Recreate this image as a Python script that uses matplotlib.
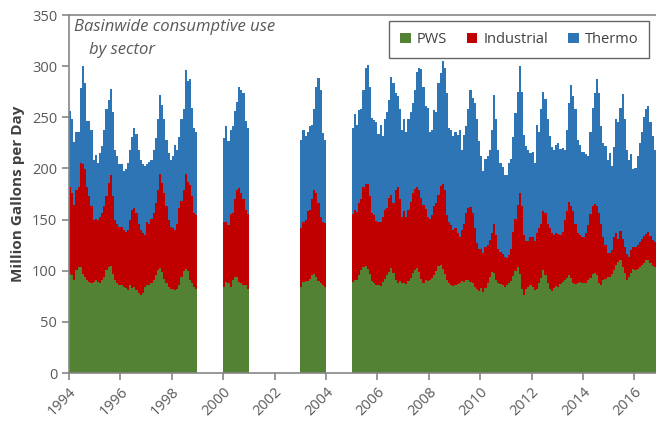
import numpy as np
import matplotlib.pyplot as plt

plt.rcParams['font.family'] = ['Open Sans', 'DejaVu Sans']

# years with data (1999, 2001, 2002, 2004 missing)
years = [1994, 1995, 1996, 1997, 1998, 2000, 2003, 2005, 2006, 2007, 2008,
         2009, 2010, 2011, 2012, 2013, 2014, 2015, 2016]

# monthly values, Million Gallons per Day (Jan..Dec)
pws = [
    [97, 96, 91, 101, 104, 104, 97, 94, 91, 89, 88, 89],
    [91, 89, 88, 91, 94, 101, 104, 105, 97, 91, 88, 86],
    [86, 84, 83, 81, 86, 83, 84, 81, 78, 76, 78, 84],
    [86, 86, 88, 91, 96, 101, 103, 99, 92, 88, 84, 82],
    [82, 81, 82, 86, 94, 100, 102, 100, 91, 88, 84, 82],
    [84, 89, 88, 84, 91, 94, 94, 89, 88, 86, 86, 82],
    [84, 89, 90, 90, 92, 96, 97, 94, 90, 88, 86, 84],
    [89, 91, 91, 96, 101, 104, 105, 102, 97, 90, 88, 86],
    [86, 85, 89, 92, 96, 99, 103, 98, 91, 88, 90, 88],
    [88, 87, 90, 93, 98, 101, 103, 99, 92, 88, 91, 90],
    [91, 93, 96, 100, 105, 106, 102, 97, 91, 88, 86, 85],
    [86, 87, 88, 90, 89, 91, 91, 89, 88, 84, 82, 80],
    [83, 79, 83, 88, 94, 99, 98, 91, 88, 87, 86, 84],
    [86, 88, 90, 95, 100, 104, 97, 82, 76, 82, 84, 86],
    [84, 81, 82, 88, 93, 101, 96, 88, 82, 80, 83, 85],
    [84, 87, 89, 91, 93, 96, 93, 88, 87, 88, 89, 88],
    [88, 88, 91, 93, 97, 98, 96, 88, 86, 91, 92, 94],
    [94, 97, 101, 106, 109, 110, 104, 98, 91, 94, 98, 102],
    [101, 102, 104, 106, 108, 110, 110, 108, 105, 104, 103, 102],
]
industrial = [
    [85, 80, 73, 78, 78, 101, 107, 105, 91, 84, 75, 61],
    [60, 61, 65, 65, 69, 72, 82, 89, 76, 59, 58, 57],
    [57, 56, 55, 59, 64, 76, 77, 75, 68, 64, 59, 51],
    [62, 60, 63, 65, 70, 78, 92, 87, 84, 75, 66, 61],
    [60, 59, 64, 75, 74, 79, 93, 87, 93, 85, 72, 72],
    [64, 59, 57, 71, 65, 76, 85, 92, 88, 84, 73, 73],
    [58, 59, 60, 68, 67, 74, 82, 82, 76, 65, 62, 63],
    [66, 68, 66, 70, 69, 78, 80, 83, 76, 66, 66, 63],
    [62, 63, 64, 67, 65, 72, 71, 68, 88, 94, 80, 65],
    [70, 66, 69, 74, 78, 79, 79, 80, 79, 76, 69, 63],
    [60, 61, 67, 66, 69, 77, 83, 82, 63, 60, 59, 55],
    [56, 50, 45, 50, 57, 65, 70, 73, 68, 58, 45, 41],
    [38, 38, 40, 37, 36, 38, 48, 44, 33, 31, 30, 29],
    [26, 27, 31, 43, 51, 60, 79, 81, 59, 47, 45, 47],
    [49, 48, 55, 54, 53, 57, 60, 58, 60, 57, 52, 52],
    [52, 48, 49, 59, 65, 71, 70, 70, 59, 49, 46, 45],
    [45, 49, 54, 62, 66, 67, 67, 68, 60, 42, 33, 23],
    [23, 23, 32, 31, 22, 29, 27, 25, 25, 19, 22, 21],
    [22, 23, 24, 25, 26, 26, 28, 26, 25, 24, 23, 23],
]
thermo = [
    [74, 72, 62, 57, 54, 74, 96, 85, 64, 73, 75, 58],
    [62, 55, 62, 66, 75, 85, 81, 84, 82, 68, 66, 61],
    [61, 57, 61, 65, 68, 72, 79, 78, 72, 68, 67, 67],
    [56, 60, 57, 62, 64, 69, 77, 76, 72, 65, 65, 65],
    [70, 83, 72, 70, 80, 79, 101, 98, 103, 86, 84, 82],
    [82, 93, 82, 83, 85, 86, 86, 99, 101, 104, 87, 85],
    [86, 90, 82, 78, 82, 72, 79, 104, 122, 124, 87, 81],
    [85, 94, 85, 91, 88, 95, 113, 116, 107, 93, 93, 96],
    [86, 94, 79, 89, 94, 96, 115, 118, 95, 89, 88, 85],
    [90, 83, 89, 88, 88, 97, 112, 119, 126, 116, 101, 106],
    [85, 84, 94, 89, 110, 110, 120, 119, 120, 92, 93, 92],
    [94, 96, 105, 78, 87, 85, 97, 115, 113, 122, 121, 106],
    [91, 80, 86, 87, 88, 101, 126, 113, 97, 87, 85, 81],
    [82, 90, 88, 93, 103, 111, 124, 112, 98, 93, 89, 82],
    [83, 76, 105, 94, 112, 117, 112, 102, 90, 84, 83, 86],
    [89, 84, 82, 68, 80, 97, 119, 113, 112, 91, 88, 83],
    [83, 77, 67, 81, 96, 109, 124, 118, 95, 92, 97, 91],
    [98, 82, 88, 111, 114, 120, 142, 125, 102, 95, 94, 76],
    [77, 87, 97, 105, 116, 122, 123, 111, 102, 90, 89, 87],
]
series_names = ['PWS', 'Industrial', 'Thermo']
colors = ['#548235', '#C00000', '#2E75B6']

# month positions as decimal years
x = np.array([y + m / 12 for y in years for m in range(12)])
p = np.array(pws).ravel()
ind = np.array(industrial).ravel()
th = np.array(thermo).ravel()

fig = plt.figure(figsize=(6.56, 4.23), dpi=100)
ax = fig.add_axes([69 / 656, 50 / 423, 587 / 656, 358 / 423])

w = 1 / 12
ax.bar(x, p, width=w, align='edge', color=colors[0], linewidth=0, label=series_names[0])
ax.bar(x, ind, width=w, bottom=p, align='edge', color=colors[1], linewidth=0, label=series_names[1])
ax.bar(x, th, width=w, bottom=p + ind, align='edge', color=colors[2], linewidth=0, label=series_names[2])

ax.set_xlim(1994, 1994 + 587 / 25.7)
ax.set_ylim(0, 350)
ax.set_yticks(np.arange(0, 351, 50))
ax.set_xticks(np.arange(1994, 2017, 2))
ax.set_xticklabels([str(t) for t in range(1994, 2017, 2)], rotation=45, ha='right',
                   rotation_mode='anchor')

grey = '#868686'
for s in ['left', 'bottom', 'top']:
    ax.spines[s].set_color(grey)
    ax.spines[s].set_linewidth(1.2)
ax.spines['right'].set_visible(False)
ax.tick_params(axis='both', colors=grey, labelcolor='#595959', labelsize=10.5,
               length=5, width=1.2, direction='out')

ax.set_ylabel('Million Gallons per Day', fontsize=11, fontweight='bold', color='#404040',
              labelpad=5)

ax.text(0.009, 0.99, 'Basinwide consumptive use', transform=ax.transAxes, fontsize=12,
        style='italic', color='#595959', va='top', ha='left')
ax.text(0.034, 0.925, 'by sector', transform=ax.transAxes, fontsize=12,
        style='italic', color='#595959', va='top', ha='left')

leg = ax.legend(loc='upper right', bbox_to_anchor=(0.988, 0.982), ncol=3, fontsize=10.5,
                frameon=True, fancybox=False, edgecolor='#404040', handlelength=0.7,
                handleheight=0.7, columnspacing=1.4, handletextpad=0.4, borderpad=0.75,
                borderaxespad=0)
leg.get_frame().set_linewidth(1.0)
for t in leg.get_texts():
    t.set_color('#404040')

fig.savefig('out.png', dpi=100)
